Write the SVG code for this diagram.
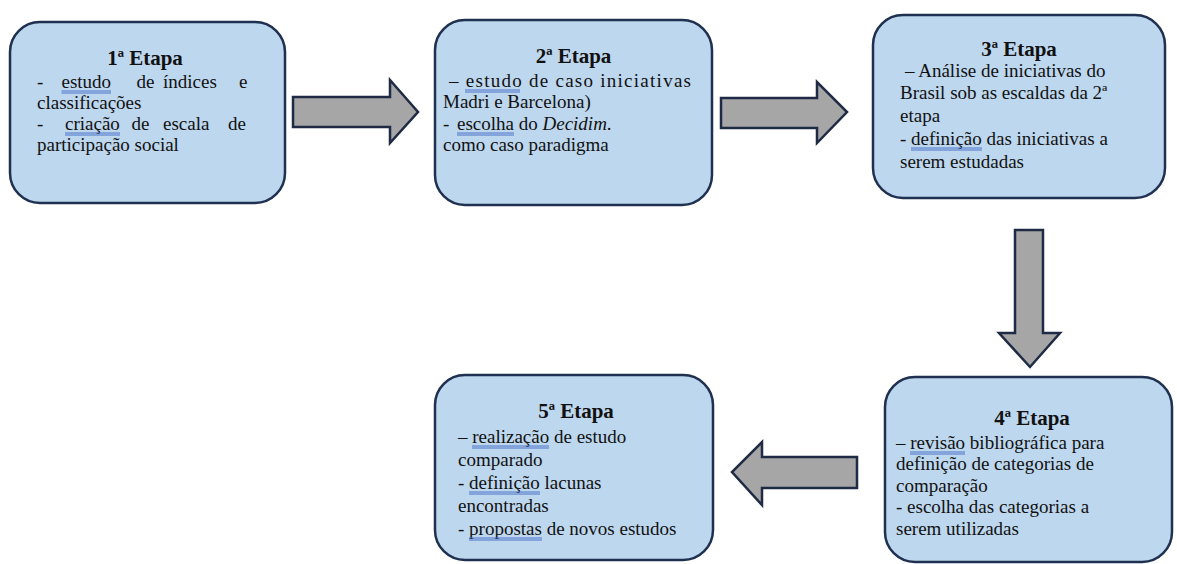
<svg xmlns="http://www.w3.org/2000/svg" width="1177" height="564" viewBox="0 0 1177 564">
<style>
.box{fill:#bdd7ee;stroke:#1f3050;stroke-width:2.5}
.arr{fill:#a6a6a6;stroke:#1f2a44;stroke-width:2.5;stroke-linejoin:miter}
.t{font-family:"Liberation Serif","Times New Roman",serif;font-size:19px;fill:#111}
.h{font-family:"Liberation Serif","Times New Roman",serif;font-size:21px;font-weight:bold;fill:#111;text-anchor:middle}
.u{stroke:#4a70c8;stroke-width:1}
</style>
<rect width="1177" height="564" fill="#ffffff"/>
<g id="connectors">
<path class="arr" d="M293,97 H390 V80 L418,112 L390,143 V127 H293 Z"/>
<path class="arr" d="M721,98 H817 V82 L847,112 L817,143 V128 H721 Z"/>
<path class="arr" d="M1015,230 H1043 V333 H1060 L1030,367 L999,333 H1015 Z"/>
<path class="arr" d="M857,457 H762 V442 L732,472 L762,505 V488 H857 Z"/>
</g>
<g id="etapa1">
<rect class="box" x="10" y="22" width="275" height="181" rx="30"/>
<text class="h" x="145" y="65">1ª Etapa</text>
<text class="t" y="88"><tspan x="37">-</tspan><tspan x="61.5">estudo</tspan><tspan x="136.5">de</tspan><tspan x="163">índices</tspan><tspan x="239">e</tspan></text>
<text class="t" x="37" y="109">classificações</text>
<text class="t" y="130"><tspan x="37">-</tspan><tspan x="65">criação</tspan><tspan x="131.5">de</tspan><tspan x="163">escala</tspan><tspan x="228">de</tspan></text>
<text class="t" x="37" y="151">participação social</text>
<path class="u" d="M61.5,91 H111 M61.5,93 H111 M65,133 H120 M65,135 H120"/>
</g>
<g id="etapa2">
<rect class="box" x="435" y="20" width="277" height="185" rx="30"/>
<text class="h" x="573.5" y="63">2ª Etapa</text>
<text class="t" x="449" y="87" font-size="20.5" textLength="242" lengthAdjust="spacing">– estudo de caso iniciativas</text>
<text class="t" x="443" y="108">Madri e Barcelona)</text>
<text class="t" y="130"><tspan x="443">-</tspan><tspan x="457">escolha do <tspan font-style="italic">Decidim</tspan>.</tspan></text>
<text class="t" x="443" y="151">como caso paradigma</text>
<path class="u" d="M465,90 H520 M465,92 H520 M457,133 H514 M457,135 H514"/>
</g>
<g id="etapa3">
<rect class="box" x="873" y="15" width="292" height="183" rx="30"/>
<text class="h" x="1019" y="56">3ª Etapa</text>
<text class="t" x="905" y="77">– Análise de iniciativas do</text>
<text class="t" x="900" y="99">Brasil sob as escaldas da 2ª</text>
<text class="t" x="900" y="122">etapa</text>
<text class="t" x="900" y="145">- definição das iniciativas a</text>
<text class="t" x="900" y="168">serem estudadas</text>
<path class="u" d="M911,148 H982 M911,150 H982"/>
</g>
<g id="etapa4">
<rect class="box" x="885" y="377" width="287" height="185" rx="30"/>
<text class="h" x="1032" y="425">4ª Etapa</text>
<text class="t" x="896" y="449">– revisão bibliográfica para</text>
<text class="t" x="896" y="470">definição de categorias de</text>
<text class="t" x="896" y="492">comparação</text>
<text class="t" x="896" y="513">- escolha das categorias a</text>
<text class="t" x="896" y="535">serem utilizadas</text>
<path class="u" d="M910,452 H965 M910,454 H965"/>
</g>
<g id="etapa5">
<rect class="box" x="435" y="375" width="278" height="185" rx="30"/>
<text class="h" x="576" y="418">5ª Etapa</text>
<text class="t" x="458" y="443">– realização de estudo</text>
<text class="t" x="458" y="466">comparado</text>
<text class="t" x="458" y="489">- definição lacunas</text>
<text class="t" x="458" y="512">encontradas</text>
<text class="t" x="458" y="535">- propostas de novos estudos</text>
<path class="u" d="M472,446 H549 M472,448 H549 M469,492 H540 M469,494 H540 M469,538 H542 M469,540 H542"/>
</g>
</svg>
